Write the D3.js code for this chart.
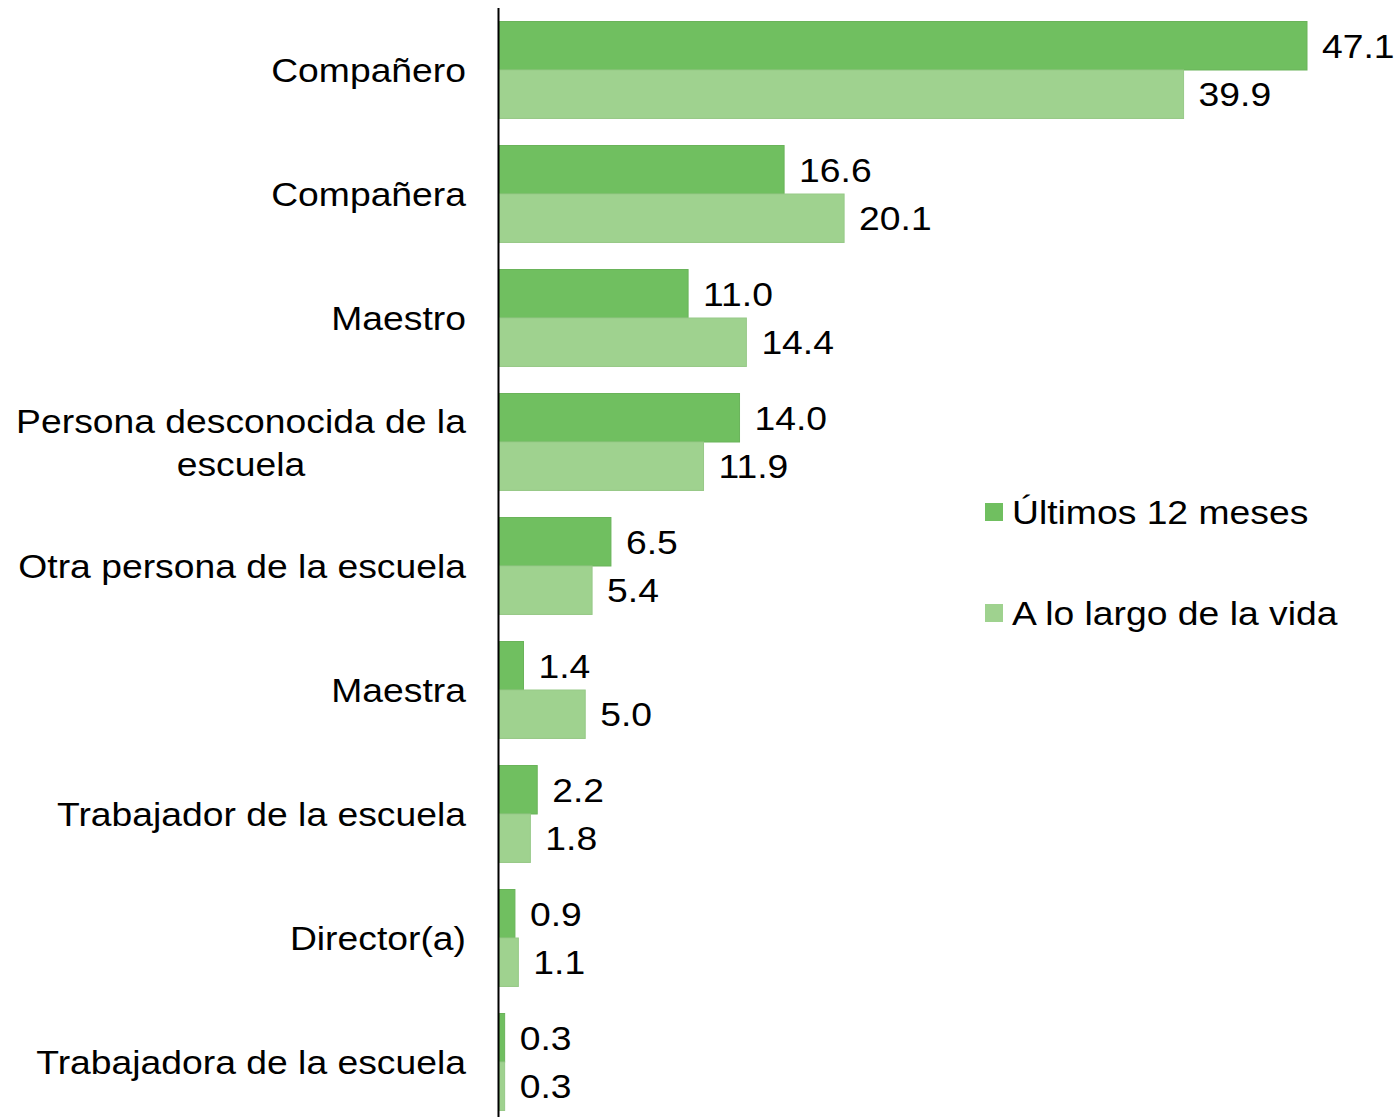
<!DOCTYPE html>
<html>
<head>
<meta charset="utf-8">
<script src="https://cdn.jsdelivr.net/npm/d3@7"></script>
<style>
  body { margin: 0; background: #fff; }
  text { font-family: "Liberation Sans", Arial, sans-serif; fill: #000; }
</style>
</head>
<body>
<div id="chart"></div>
<script>
var categories = ["Compañero", "Compañera", "Maestro", "Persona desconocida de la|escuela",
    "Otra persona de la escuela", "Maestra", "Trabajador de la escuela", "Director(a)",
    "Trabajadora de la escuela"];
var series_names = ["Últimos 12 meses", "A lo largo de la vida"];
var ultimos = [47.1, 16.6, 11.0, 14.0, 6.5, 1.4, 2.2, 0.9, 0.3];
var vida = [39.9, 20.1, 14.4, 11.9, 5.4, 5.0, 1.8, 1.1, 0.3];
var colors = ["#70bf60", "#9fd28f"];

var data = categories.map(function (c, i) {
    return { cat: c, values: [ultimos[i], vida[i]] };
});

// the original text is a bit wider than the font we have
var sx = 1.13;
function place(px, py) { return "translate(" + px + "," + py + ") scale(" + sx + ",1)"; }

var W = 1394, H = 1117;
var svg = d3.select("#chart").append("svg")
    .attr("width", W).attr("height", H);

var x0 = 499.5;
var x = d3.scaleLinear().domain([0, 47.1]).range([x0, 1307]);

var y = d3.scaleBand()
    .domain(categories)
    .range([8, 8 + 124 * 9])
    .paddingInner(0.218)
    .paddingOuter(0.109);

var ys = d3.scaleBand().domain([0, 1]).range([0, y.bandwidth()]);

var groups = svg.selectAll("g.cat")
    .data(data)
    .enter().append("g")
    .attr("transform", d => "translate(0," + y(d.cat) + ")");

groups.selectAll("rect")
    .data(d => d.values)
    .enter().append("rect")
    .attr("x", x0)
    .attr("y", (d, i) => ys(i))
    .attr("width", d => x(d) - x0)
    .attr("height", ys.bandwidth())
    .attr("fill", (d, i) => colors[i])
    .attr("stroke", (d, i) => i == 0 ? "#6ab35a" : "#97c988")
    .attr("stroke-width", 1);

groups.selectAll("text.val")
    .data(d => d.values)
    .enter().append("text")
    .attr("class", "val")
    .attr("transform", (d, i) => place(x(d) + 15, ys(i) + ys.bandwidth() / 2 + 12))
    .style("font-size", "33px")
    .text(d => d.toFixed(1));

// category labels
groups.each(function (d) {
    var lines = d.cat.split("|");
    var g = d3.select(this);
    var cy = y.bandwidth() / 2;
    if (lines.length == 1) {
        g.append("text")
            .attr("transform", place(466, cy + 12))
            .attr("text-anchor", "end")
            .style("font-size", "33px")
            .text(lines[0]);
    } else {
        lines.forEach(function (l, k) {
            g.append("text")
                .attr("transform", place(241, cy + 12 + (k - (lines.length - 1) / 2) * 43))
                .attr("text-anchor", "middle")
                .style("font-size", "33px")
                .text(l);
        });
    }
});

// axis line
svg.append("line")
    .attr("x1", 498.5).attr("x2", 498.5)
    .attr("y1", 8).attr("y2", H)
    .attr("stroke", "#000")
    .attr("stroke-width", 2);

// legend
var legend = svg.selectAll("g.leg")
    .data(series_names)
    .enter().append("g")
    .attr("transform", (d, i) => "translate(985," + (512 + i * 101) + ")");
legend.append("rect")
    .attr("x", 0).attr("y", -9)
    .attr("width", 18).attr("height", 18)
    .attr("fill", (d, i) => colors[i]);
legend.append("text")
    .attr("transform", place(27, 12))
    .style("font-size", "33px")
    .text(d => d);
</script>
</body>
</html>
